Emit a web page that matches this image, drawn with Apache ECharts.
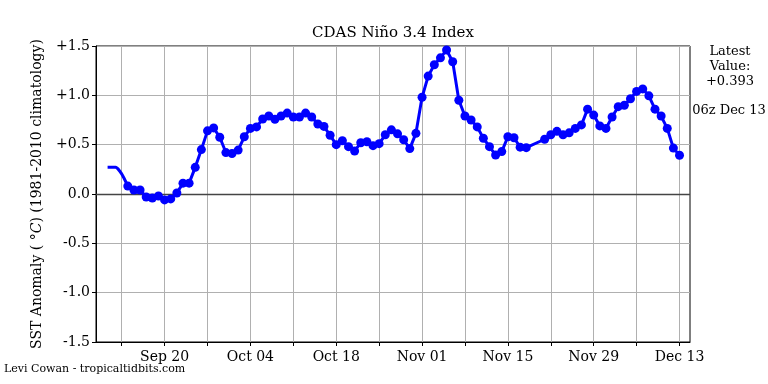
<!DOCTYPE html>
<html><head><meta charset="utf-8">
<script src="https://cdn.jsdelivr.net/npm/echarts@6/dist/echarts.min.js"></script>
<style>html,body{margin:0;padding:0;background:#fff}#c{width:768px;height:384px}</style>
</head><body><div id="c"></div><script>
// x positions are days since Sep 1 (Sep 1 = 0)
const startDay = 13; // Sep 14
const values = [
  0.08, 0.04, 0.04, -0.03, -0.04, -0.02, -0.06, -0.05, 0.01, 0.11,
  0.11, 0.27, 0.45, 0.64, 0.67, 0.575, 0.42, 0.41, 0.445, 0.58,
  0.665, 0.68, 0.76, 0.79, 0.757, 0.79, 0.82, 0.78, 0.78, 0.82,
  0.78, 0.71, 0.685, 0.595, 0.50, 0.54, 0.48, 0.435, 0.52, 0.53,
  0.49, 0.51, 0.60, 0.65, 0.61, 0.55, 0.46, 0.615, 0.98, 1.195,
  1.31, 1.38, 1.46, 1.34, 0.95, 0.79, 0.75, 0.68, 0.565, 0.48,
  0.395, 0.43, 0.58, 0.57, 0.475, 0.47, null, null, 0.555, 0.60,
  0.635, 0.60, 0.62, 0.665, 0.70, 0.86, 0.80, 0.69, 0.665, 0.78,
  0.885, 0.90, 0.965, 1.04, 1.065, 0.995, 0.86, 0.79, 0.665, 0.465,
  0.393
];
const leadDays = [9.7, 11, 11.7, 12.3, 13];
const leadValues = [0.27, 0.27, 0.23, 0.17, 0.08];
const gridDays = [12, 19, 26, 33, 40, 47, 54, 61, 68, 75, 82, 89, 96, 103];
const tickDays = [19, 33, 47, 61, 75, 89, 103];
const tickLabels = ['Sep 20', 'Oct 04', 'Oct 18', 'Nov 01', 'Nov 15', 'Nov 29', 'Dec 13'];
const latestTime = '06z Dec 13';

const FONT = 'DejaVu Serif';
const mainData = values.map((v, i) => [startDay + i, v]);
const leadData = leadDays.map((d, i) => [d, leadValues[i]]);
const latest = values[values.length - 1];
const latestStr = (latest >= 0 ? '+' : '') + latest.toFixed(3);

const chart = echarts.init(document.getElementById('c'), null, {renderer: 'canvas'});
chart.setOption({
  animation: false,
  backgroundColor: '#fff',
  grid: {left: 96, right: 78, top: 46, bottom: 42, show: true, borderColor: '#000', borderWidth: 1, backgroundColor: 'transparent'},
  xAxis: {
    type: 'value', min: 7.81, max: 104.71,
    axisLine: {show: true, onZero: false, lineStyle: {color: '#000', width: 1}},
    axisTick: {show: true, customValues: gridDays, length: 4, inside: false, lineStyle: {color: '#000', width: 1}},
    axisLabel: {customValues: tickDays, margin: 8, color: '#000', fontFamily: FONT, fontSize: 14,
      formatter: v => { const k = tickDays.indexOf(Math.round(v)); return k >= 0 ? tickLabels[k] : ''; }},
    splitLine: {show: true, lineStyle: {color: '#b0b0b0', width: 1}}
  },
  yAxis: {
    type: 'value', min: -1.5, max: 1.5, interval: 0.5,
    axisLine: {show: true, lineStyle: {color: '#000', width: 1}},
    axisTick: {show: true, length: 4, inside: false, lineStyle: {color: '#000'}},
    axisLabel: {margin: 6, color: '#000', fontFamily: FONT, fontSize: 14,
      formatter: v => (v > 0 ? '+' : '') + v.toFixed(1)},
    splitLine: {show: true, lineStyle: {color: '#b0b0b0', width: 1}},
    name: 'SST Anomaly ( {i|°C}) (1981-2010 climatology)',
    nameLocation: 'middle', nameGap: 52, nameRotate: 90,
    nameTextStyle: {color: '#000', fontFamily: FONT, fontSize: 14,
      rich: {i: {fontFamily: FONT, fontStyle: 'italic', fontSize: 14, color: '#000'}}}
  },
  series: [
    {
      type: 'line', data: leadData, showSymbol: false, smooth: 0.3,
      lineStyle: {color: '#0000ff', width: 3}, z: 3
    },
    {
      type: 'line', data: mainData, connectNulls: true,
      symbol: 'circle', symbolSize: 9, showSymbol: true,
      itemStyle: {color: '#0000ff'},
      lineStyle: {color: '#0000ff', width: 3}, z: 4,
      markLine: {silent: true, symbol: 'none', label: {show: false},
        lineStyle: {color: '#444', width: 1.3, type: 'solid'},
        data: [{yAxis: 0}], z: 2}
    }
  ],
  graphic: [
    {type: 'text', x: 393, y: 33, style: {text: 'CDAS Niño 3.4 Index', fontFamily: FONT, fontSize: 15, fill: '#000', align: 'center', verticalAlign: 'middle'}},
    {type: 'text', x: 730, y: 67, style: {text: 'Latest\nValue:\n' + latestStr, fontFamily: FONT, fontSize: 13, lineHeight: 15, fill: '#000', align: 'center', verticalAlign: 'middle'}},
    {type: 'text', x: 729, y: 111, style: {text: latestTime, fontFamily: FONT, fontSize: 13, fill: '#000', align: 'center', verticalAlign: 'middle'}},
    {type: 'text', x: 4, y: 369, style: {text: 'Levi Cowan - tropicaltidbits.com', fontFamily: FONT, fontSize: 11, fill: '#000', align: 'left', verticalAlign: 'middle'}}
  ]
});
</script></body></html>
